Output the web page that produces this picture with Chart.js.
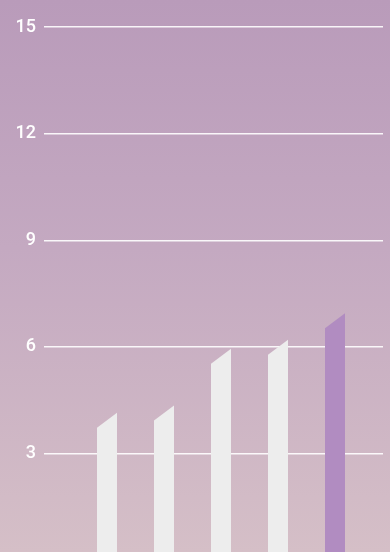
<!DOCTYPE html>
<html>
<head>
<meta charset="utf-8">
<script src="https://cdn.jsdelivr.net/npm/chart.js@4.4.1/dist/chart.umd.min.js"></script>
<style>
  html, body {
    margin: 0;
    padding: 0;
    width: 390px;
    height: 552px;
    overflow: hidden;
    background: linear-gradient(to bottom, #b99bba 0%, #c4a9c1 45%, #d5bfc7 100%);
  }
  #wrap {
    position: relative;
    width: 390px;
    height: 579px;
  }
</style>
</head>
<body>
<div id="wrap"><canvas id="chart"></canvas></div>
<script>
"use strict";
// values taken at the high (right) corner of each bar
const categories = ["A", "B", "C", "D", "E"];
const values = [4.15, 4.35, 5.95, 6.2, 6.95];
const barColors = ["#ededed", "#ededed", "#ededed", "#ededed", "#b18cc1"];
const yTicks = [3, 6, 9, 12, 15];

const SLANT = 15; // drop of the left corner, px

// bars with a sloped top, drawn from the bar elements the controller laid out
const slantedBars = {
    id: "slantedBars",
    afterDatasetsDraw(chart) {
        const ctx = chart.ctx;
        const meta = chart.getDatasetMeta(0);
        meta.data.forEach((bar, i) => {
            const { x, y, base, width } = bar.getProps(["x", "y", "base", "width"], true);
            const l = x - width / 2;
            const r = x + width / 2;
            ctx.save();
            ctx.fillStyle = barColors[i];
            ctx.beginPath();
            ctx.moveTo(l, base);
            ctx.lineTo(l, y + SLANT);
            ctx.lineTo(r, y);
            ctx.lineTo(r, base);
            ctx.closePath();
            ctx.fill();
            ctx.restore();
        });
    },
};

const points = categories.map((c, i) => ({ x: i + 1, y: values[i] }));

new Chart(document.getElementById("chart"), {
    type: "bar",
    data: {
        datasets: [{
            label: "valores",
            data: points,
            backgroundColor: "rgba(0,0,0,0)",
            borderWidth: 0,
            barThickness: 20,
        }],
    },
    options: {
        responsive: true,
        maintainAspectRatio: false,
        animation: false,
        layout: { padding: { top: 27, right: 7, bottom: 10, left: 0 } },
        plugins: {
            legend: { display: false },
            tooltip: { enabled: false },
        },
        scales: {
            x: {
                type: "linear",
                display: false,
                offset: false,
                min: -0.105,
                max: 5.842,
            },
            y: {
                min: 0,
                max: 15,
                afterFit(scale) { scale.width = 44; },
                afterBuildTicks(scale) {
                    scale.ticks = [0].concat(yTicks).map(v => ({ value: v }));
                },
                border: { display: false },
                grid: {
                    drawTicks: false,
                    lineWidth: 1.5,
                    color: (c) => c.tick && c.tick.value === 0 ? "rgba(0,0,0,0)" : "rgba(255,255,255,0.9)",
                },
                ticks: {
                    padding: 8,
                    color: "#ffffff",
                    font: { family: "Roboto, 'Liberation Sans', sans-serif", size: 18, weight: "500" },
                    callback: (v) => (v === 0 ? "" : String(v)),
                },
            },
        },
    },
    plugins: [slantedBars],
});
</script>
</body>
</html>
